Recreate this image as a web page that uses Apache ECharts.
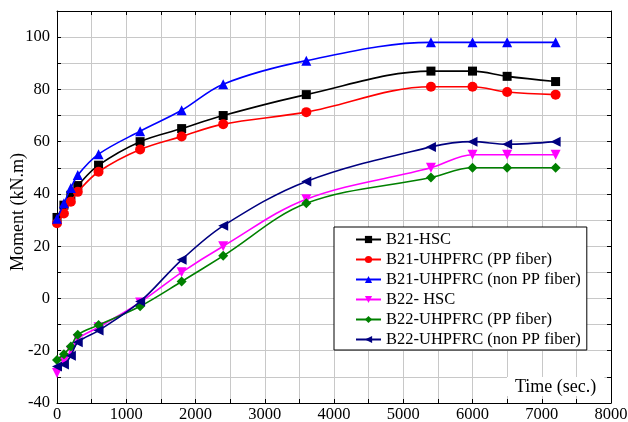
<!DOCTYPE html>
<html><head><meta charset="utf-8">
<script src="https://cdn.jsdelivr.net/npm/echarts@6/dist/echarts.min.js"></script>
<style>html,body{margin:0;padding:0;background:#fff}#c{width:628px;height:422px}</style>
</head><body><div id="c"></div>
<script>
const times = [0,100,200,300,600,1200,1800,2400,3600,5400,6000,6500,7200];
const b21HSC = [31,35.7,39.5,43.2,51,60,65,70,78,87,87,85,83];
const b21PP = [28.8,32.5,37,40.8,48.5,57,62,66.7,71.3,81,81,79,78];
const b21NonPP = [30.5,36.4,42.3,47.2,55.2,64,72,82,91,98,98,98,98];
const b22HSC = [-28.5,-24,-20,-15.5,-11,-1.5,10,20,38,50,55,55,55];
const b22PP = [-23.5,-21.3,-18.4,-13.9,-10.2,-3,6.5,16.3,36.4,46.3,50,50,50];
const b22NonPP = [-26,-25.3,-21.9,-16.8,-12.3,-1.2,14.8,27.8,44.8,58,60,59,60];
const names = ['B21-HSC','B21-UHPFRC (PP fiber)','B21-UHPFRC (non PP fiber)','B22- HSC','B22-UHPFRC (PP fiber)','B22-UHPFRC (non PP fiber)'];
const values = [b21HSC,b21PP,b21NonPP,b22HSC,b22PP,b22NonPP];
const colors = ['#000000','#ff0000','#0000ff','#ff00ff','#008000','#000080'];
const symbols = ['rect','circle','triangle','path://M0,0 L10,0 L5,9 Z','diamond','path://M0,5 L9,0 L9,10 Z'];
const sizes = [9,10,10,10,10,10];
const font = '"Liberation Serif","Times New Roman",serif';
const gridColor = '#c8c8c8';
const chart = echarts.init(document.getElementById('c'));
const series = names.map((n,i)=>({
  name:n, type:'line', xAxisIndex:0, yAxisIndex:0,
  data: times.map((t,j)=>[t, values[i][j]]),
  smooth:0.35, symbol:symbols[i], symbolSize:sizes[i], showAllSymbol:true,
  lineStyle:{color:colors[i], width:1.6}, itemStyle:{color:colors[i]},
  emphasis:{disabled:true}, animation:false, z:3+i
}));
const axisLine = {show:true,onZero:false,lineStyle:{color:'#000',width:1}};
const baseX = {type:'value', min:0, max:8000, interval:500, axisLine:axisLine,
  axisTick:{show:true,inside:true,length:4,lineStyle:{color:'#000'}}};
const baseY = {type:'value', min:-40, max:110, interval:10, axisLine:axisLine,
  axisTick:{show:true,inside:true,length:4,lineStyle:{color:'#000'}}};
chart.setOption({
  animation:false,
  backgroundColor:'#fff',
  grid:{left:57,right:17,top:11,bottom:19,containLabel:false,outerBoundsMode:'none'},
  xAxis:[
    Object.assign({}, baseX, {position:'bottom',
      splitLine:{show:true,lineStyle:{color:gridColor,width:1}},
      axisLabel:{color:'#000',fontFamily:font,fontSize:16.5,margin:3,
        formatter:v=> (v%1000===0)? String(v):''}}),
    Object.assign({}, baseX, {position:'top', splitLine:{show:false}, axisLabel:{show:false}})
  ],
  yAxis:[
    Object.assign({}, baseY, {position:'left',
      splitLine:{show:true,lineStyle:{color:gridColor,width:1}},
      axisLabel:{color:'#000',fontFamily:font,fontSize:16.5,margin:7,
        formatter:v=> (v%20===0 && v<110)? String(v):''}}),
    Object.assign({}, baseY, {position:'right', splitLine:{show:false}, axisLabel:{show:false}})
  ],
  legend:{
    orient:'vertical', left:334, top:227,
    padding:[4,6,2,21], itemGap:3, itemWidth:25, itemHeight:9,
    backgroundColor:'#fff', borderColor:'#000', borderWidth:1, borderRadius:0,
    textStyle:{color:'#000',fontFamily:font,fontSize:16.5,lineHeight:14},
    data:names, selectedMode:false
  },
  graphic:[
    {type:'text', left:507, top:377, z:1,
      style:{text:'Time (sec.)', font:'18px '+font, fill:'#000',
        backgroundColor:'#fff', padding:[1,8,0,8]}},
    {type:'text', x:18.5, y:212, rotation:Math.PI/2,
      style:{text:'Moment (kN.m)', font:'18px '+font, fill:'#000', align:'center', verticalAlign:'middle'}}
  ],
  series:series
});
</script></body></html>
